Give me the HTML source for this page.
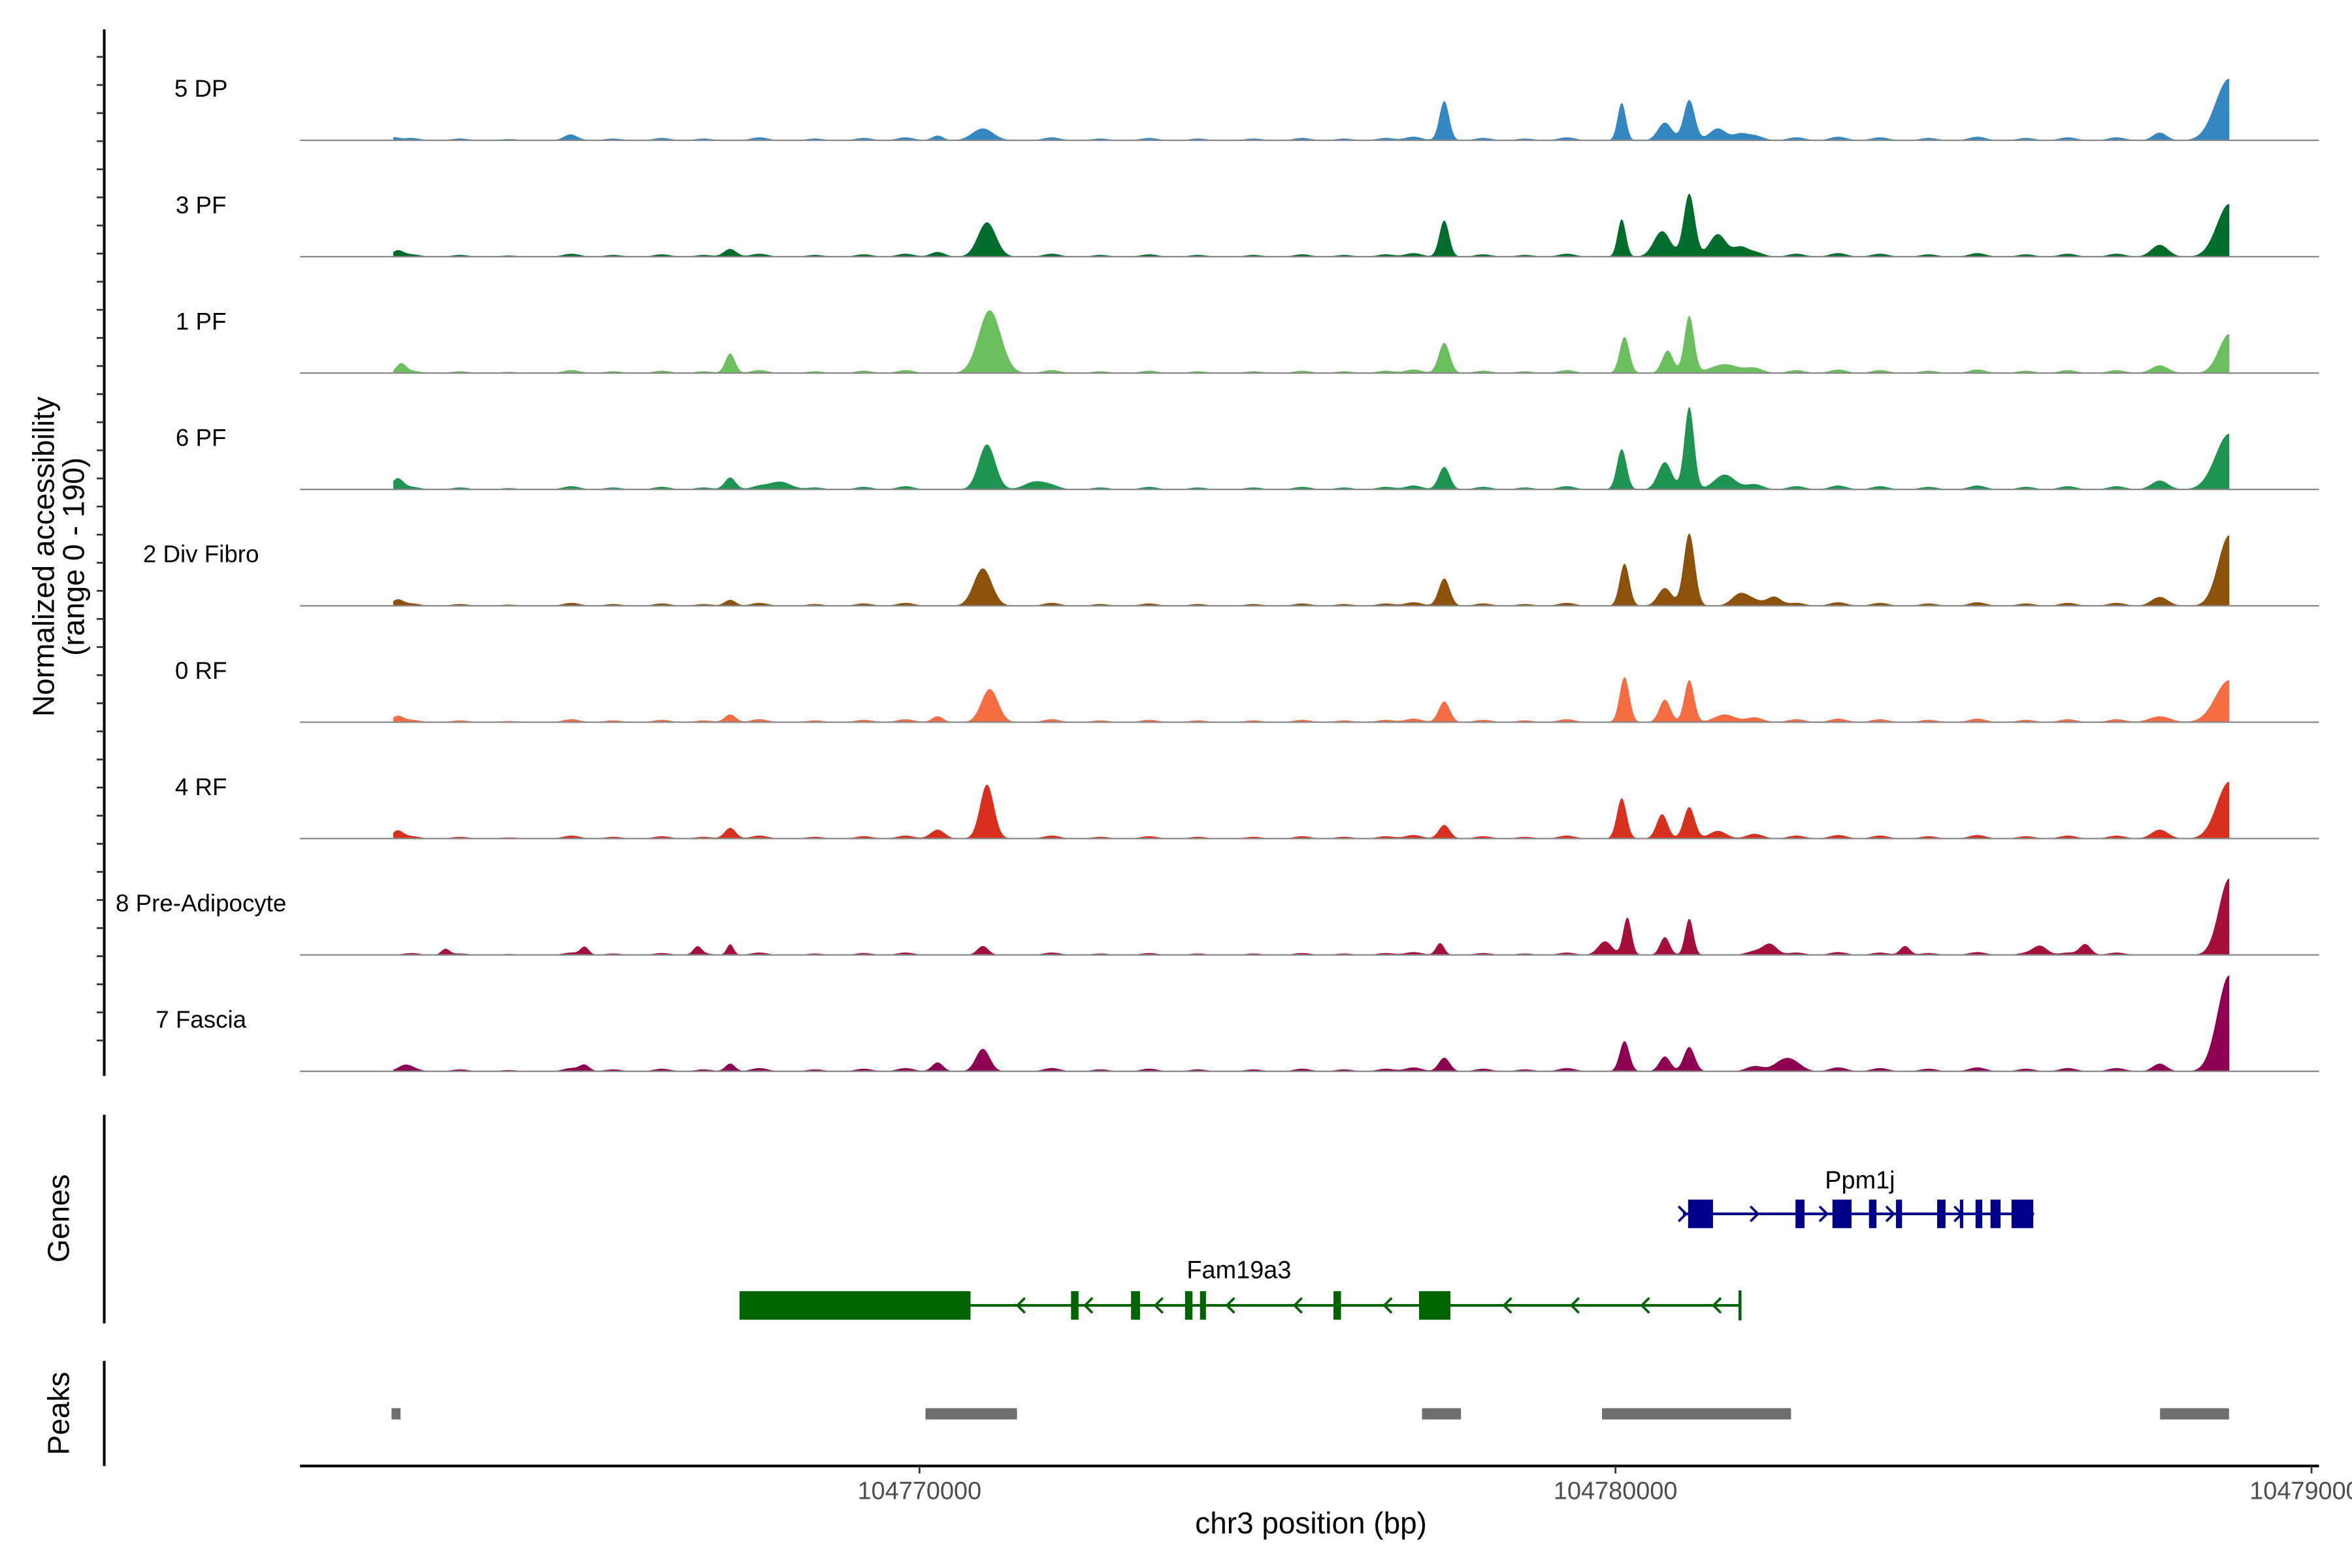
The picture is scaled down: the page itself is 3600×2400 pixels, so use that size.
<!DOCTYPE html>
<html><head><meta charset="utf-8"><style>
html,body{margin:0;padding:0;background:#fff;}
svg{display:block;}
text{font-family:"Liberation Sans",Arial,sans-serif;}
</style></head><body>
<svg id="chart" width="3600" height="2400" viewBox="0 0 1568 1045" preserveAspectRatio="none" xmlns="http://www.w3.org/2000/svg">
<g id="tracks"></g>
<g id="axes"></g>
<g id="genes"></g>
<g id="peaks"></g>
<text x="36" y="371" transform="rotate(-90 36 371)" text-anchor="middle" font-size="20">Normalized accessibility</text>
<text x="56" y="371" transform="rotate(-90 56 371)" text-anchor="middle" font-size="20">(range 0 - 190)</text>
<text x="46" y="812" transform="rotate(-90 46 812)" text-anchor="middle" font-size="20">Genes</text>
<text x="46" y="942" transform="rotate(-90 46 942)" text-anchor="middle" font-size="20">Peaks</text>
<text x="874" y="1022" text-anchor="middle" font-size="20">chr3 position (bp)</text>
</svg>
<script>
// ---- data (positions in kb offset from 104770000) ----
const trackNames = ["5 DP","3 PF","1 PF","6 PF","2 Div Fibro","0 RF","4 RF","8 Pre-Adipocyte","7 Fascia"];
const trackColors = ["#3587c1","#006d2c","#6bbf5f","#1f9450","#8c510a","#f46d43","#d7301f","#a50f3a","#8e0152"];
const bgScale = [1,1,1,1.1,1,1,1,0.8,1.1];
const bgCenters = [-7.3,-6.6,-5.9,-5.0,-4.4,-3.7,-3.1,-2.3,-1.5,-0.8,-0.2,1.9,2.6,3.3,4.0,4.8,5.5,6.1,6.7,7.1,8.1,8.7,9.3,12.0,12.6,13.2,13.8,14.5,15.2,15.9,16.5,17.2];
const bgValues  = [4,3,2,5,3,4,3,5,3,4,5,5,3,4,3,3,4,3,4,6,4,3,5,8,5,6,5,4,6,4,5,5];
const centers0 = [-7.56,-5.02,0.26,0.91,7.54,10.09,10.71,11.06,11.47,11.79,17.82,18.82];
const values0  = [5,5,8,20,66,63,30,68,20,10,13,104];
const widths0  = [.08,.08,.08,.15,.07,.06,.1,.08,.12,.1,.1,.2];
const centers1 = [-7.5,-2.72,0.26,0.97,7.54,10.09,10.67,11.06,11.47,11.79,17.82,18.82];
const values1  = [10,13,8,58,61,63,43,106,38,15,20,89];
const widths1  = [.08,.09,.1,.13,.07,.06,.12,.08,.12,.1,.12,.18];
const centers2 = [-7.45,-2.72,1.01,7.54,10.13,10.75,11.06,11.57,17.82,18.82];
const values2  = [15,33,106,51,61,38,96,15,13,66];
const widths2  = [.07,.07,.16,.08,.07,.08,.07,.2,.12,.15];
const centers3 = [-7.5,-2.72,-2.0,0.97,1.66,7.54,10.09,10.71,11.06,11.57,17.82,18.82];
const values3  = [18,20,13,76,13,38,68,46,139,25,15,94];
const widths3  = [.08,.08,.15,.12,.15,.08,.07,.1,.07,.15,.12,.2];
const centers4 = [-7.5,-2.72,0.91,7.54,10.13,10.71,11.06,11.79,12.28,17.82,18.82];
const values4  = [10,10,63,46,71,30,122,20,15,15,119];
const widths4  = [.08,.08,.13,.08,.07,.1,.08,.12,.1,.12,.16];
const centers5 = [-7.5,-2.72,0.26,1.01,7.54,10.13,10.71,11.06,11.57,17.82,18.82];
const values5  = [10,13,10,56,35,76,38,71,13,10,71];
const widths5  = [.08,.08,.08,.12,.08,.07,.08,.07,.15,.15,.2];
const centers6 = [-7.5,-2.72,0.26,0.97,7.54,10.09,10.67,11.06,11.47,17.82,18.82];
const values6  = [13,18,15,91,23,68,41,53,13,15,96];
const widths6  = [.08,.08,.1,.1,.08,.07,.08,.08,.12,.12,.18];
const centers7 = [-6.81,-4.81,-3.19,-2.72,0.91,7.48,9.85,10.17,10.71,11.06,12.22,14.16,16.1,16.75,18.82];
const values7  = [10,13,13,18,15,20,23,63,30,61,18,15,15,18,129];
const widths7  = [.06,.06,.06,.05,.08,.06,.1,.06,.07,.06,.1,.07,.1,.08,.15];
const centers8 = [-7.4,-4.81,-2.72,0.26,0.91,7.54,10.13,10.71,11.06,12.44,17.82,18.82];
const values8  = [8,10,13,15,38,23,51,25,41,20,13,162];
const widths8  = [.1,.07,.07,.08,.1,.08,.07,.08,.08,.15,.1,.17];
const trackCenters = [centers0,centers1,centers2,centers3,centers4,centers5,centers6,centers7,centers8];
const trackValues = [values0,values1,values2,values3,values4,values5,values6,values7,values8];
const trackWidths = [widths0,widths1,widths2,widths3,widths4,widths5,widths6,widths7,widths8];
const dataStartKb = -7.56, dataEndKb = 18.82;

const ppm1jExons = [[11.043,11.401],[12.586,12.716],[13.117,13.392],[13.642,13.750],[14.030,14.117],[14.621,14.742],[14.948,14.996],[15.173,15.270],[15.388,15.533],[15.690,16.003]];
const ppm1jSpan = [10.97,16.013];
const ppm1jArrows = [10.97,12.004,12.996,13.954,14.933];
const fam19Exons = [[-2.586,0.733],[2.177,2.285],[3.039,3.168],[3.815,3.922],[4.030,4.116],[5.948,6.056],[7.177,7.629]];
const fam19Span = [-2.586,11.789];
const fam19Arrows = [1.45,2.42,3.43,4.46,5.43,6.72,8.44,9.41,10.42,11.45];
const peakRegions = [[-7.586,-7.457],[0.086,1.401],[7.22,7.78],[9.806,12.522],[17.824,18.815]];
const xTickKb = [0,10,20];
const xTickLabels = ["104770000","104780000","104790000"];

// ---- scales ----
const NS="http://www.w3.org/2000/svg";
const xS = kb => 613 + kb*46.4;
const yMax = 190, trackPx = 75;
const base = i => 93.5 + i*77.56;
function mk(tag, attrs, parent){const e=document.createElementNS(NS,tag);for(const k in attrs)e.setAttribute(k,attrs[k]);parent.appendChild(e);return e;}

const tracksG=document.getElementById('tracks');
trackNames.forEach((name,i)=>{
  const b=base(i);
  const g=mk('g',{},tracksG);
  
  
  const lbl=mk('text',{x:134,y:b-29,'text-anchor':'middle','font-size':'16'},g);
  lbl.textContent=name;
  
  
  const C=trackCenters[i],V=trackValues[i],W=trackWidths[i];
  let d='M'+xS(dataStartKb)+','+b;
  for(let px=xS(dataStartKb);px<=xS(dataEndKb)+0.01;px+=0.5){
    const kb=(px-613)/46.4;
    let v=0;
    for(let k=0;k<bgCenters.length;k++){const z=(kb-bgCenters[k])/0.12;v+=bgScale[i]*bgValues[k]*Math.exp(-0.5*z*z);}
    for(let k=0;k<C.length;k++){const z=(kb-C[k])/W[k];v+=V[k]*Math.exp(-0.5*z*z);}
    d+=' L'+px.toFixed(1)+','+(b-Math.min(v,yMax)/yMax*trackPx).toFixed(2);
  }
  d+=' L'+xS(dataEndKb)+','+b+' Z';
  const p=mk('path',{d:d,fill:trackColors[i]},g);
  
  
  const bl=mk('line',{x1:200,x2:1546,y1:b,y2:b,stroke:'#888','stroke-width':1},g);
  
  
});

// ---- axes ----
const axesG=document.getElementById('axes');
const ya=mk('line',{x1:69.5,x2:69.5,y1:19.6,y2:717,stroke:'#000','stroke-width':1.8},axesG);


for(let k=0;k<36;k++){
  const y=37.9+k*18.73;
  const t=mk('line',{x1:64.5,x2:69.5,y1:y,y2:y,stroke:'#333','stroke-width':1.2},axesG);
  
  
}
const ga=mk('line',{x1:69.5,x2:69.5,y1:743,y2:882,stroke:'#000','stroke-width':1.8},axesG);


const pa=mk('line',{x1:69.5,x2:69.5,y1:907,y2:977,stroke:'#000','stroke-width':1.8},axesG);


const xa=mk('line',{x1:200,x2:1546,y1:977,y2:977,stroke:'#000','stroke-width':1.8},axesG);


xTickKb.forEach((kb,j)=>{
  const x=xS(kb);
  const t=mk('line',{x1:x,x2:x,y1:977,y2:982,stroke:'#333','stroke-width':1.2},axesG);
  
  
  const l=mk('text',{x:x,y:999,'text-anchor':'middle','font-size':'16.5',fill:'#4d4d4d'},axesG);
  l.textContent=xTickLabels[j];
  
  
});

// ---- genes ----
const genesG=document.getElementById('genes');
function drawGene(name,span,exons,arrows,y,color,dir,labelX,labelY){
  const g=mk('g',{},genesG);
  
  
  mk('line',{x1:xS(span[0]),x2:xS(span[1]),y1:y,y2:y,stroke:color,'stroke-width':1.8},g);
  arrows.forEach(a=>{const x=xS(a);
    const d=dir>0?`M${x-3},${y-5} L${x+2},${y} L${x-3},${y+5}`:`M${x+3},${y-5} L${x-2},${y} L${x+3},${y+5}`;
    mk('path',{d:d,fill:'none',stroke:color,'stroke-width':1.6},g);});
  exons.forEach(e=>{const r=mk('rect',{x:xS(e[0]),y:y-9.5,width:xS(e[1])-xS(e[0]),height:19,fill:color},g);
    
    });
  const l=mk('text',{x:labelX,y:labelY,'text-anchor':'middle','font-size':'16.5'},g);
  l.textContent=name;
  
  
  return g;
}
drawGene('Ppm1j',ppm1jSpan,ppm1jExons,ppm1jArrows,809,'#00008b',1,1240,792);
const fg=drawGene('Fam19a3',fam19Span,fam19Exons,fam19Arrows,870,'#006400',-1,826,852);
mk('line',{x1:xS(fam19Span[1]),x2:xS(fam19Span[1]),y1:860,y2:880,stroke:'#006400','stroke-width':2},fg);

// ---- peaks ----
const peaksG=document.getElementById('peaks');
peakRegions.forEach(r=>{
  const e=mk('rect',{x:xS(r[0]),y:938.5,width:xS(r[1])-xS(r[0]),height:7.5,fill:'#6e6e6e'},peaksG);
  
  
});
</script>
</body></html>
